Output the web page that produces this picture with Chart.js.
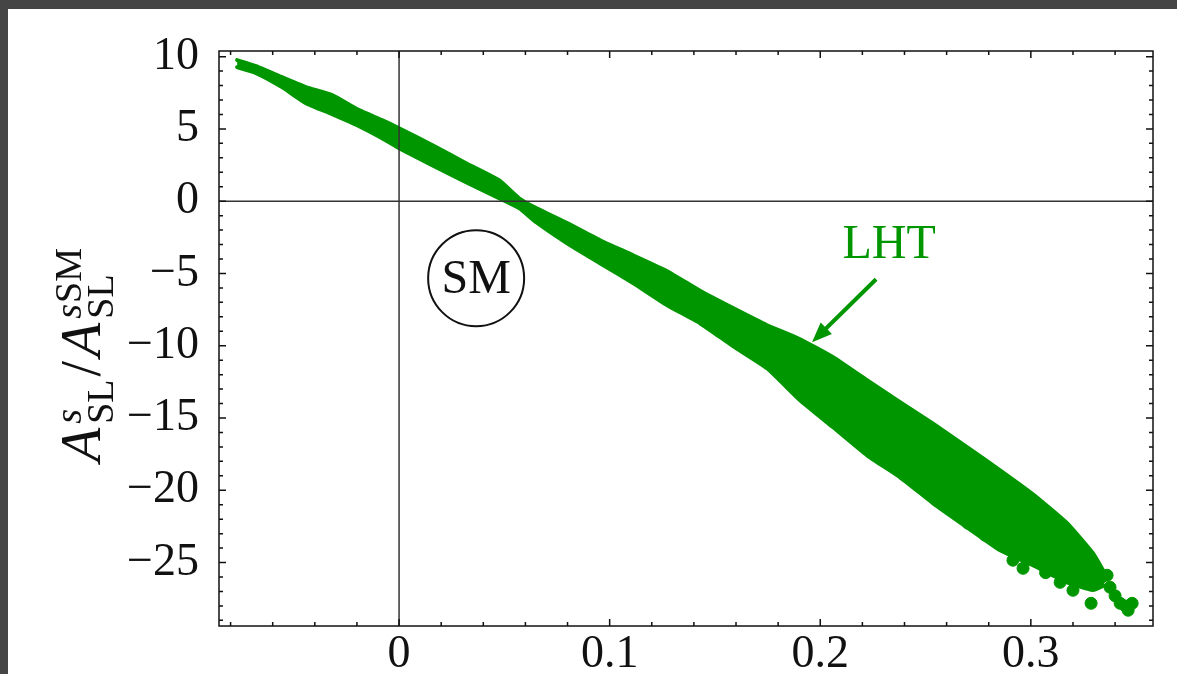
<!DOCTYPE html>
<html>
<head>
<meta charset="utf-8">
<script src="https://cdn.jsdelivr.net/npm/chart.js"></script>
<style>
  html, body { margin: 0; padding: 0; }
  body { background: #454545; width: 1177px; height: 674px; overflow: hidden; position: relative; }
  .sheet { position: absolute; left: 8px; top: 9px; width: 1169px; height: 665px; background: #fff; }
  canvas { display: block; }
</style>
</head>
<body>
<div class="sheet"><canvas id="chart" width="1169" height="665"></canvas></div>
<script>
// band of the LHT scan: upper / lower edge at each x
const envX = [-0.0769, -0.0679, -0.0556, -0.0442, -0.0318, -0.0190, -0.0081, 0.0, 0.0157, 0.0318,
    0.0475, 0.0570, 0.0651, 0.0798, 0.0954, 0.1111, 0.1273, 0.1429, 0.1586, 0.1747,
    0.1904, 0.2061, 0.2222, 0.2379, 0.2536, 0.2697, 0.2854, 0.3010, 0.3172, 0.3295, 0.3345]
const envUpper = [9.76, 9.34, 8.58, 7.89, 7.34, 6.30, 5.61, 5.05, 3.88, 2.63,
    1.45, 0.20, -0.48, -1.52, -2.70, -3.74, -4.84, -6.20, -7.40, -8.58,
    -9.55, -10.80, -12.39, -13.90, -15.40, -17.02, -18.62, -20.28, -22.28, -24.36, -25.60]
const envLower = [9.27, 8.86, 7.89, 6.78, 6.02, 5.19, 4.36, 3.67, 2.49, 1.31,
    0.21, -0.48, -1.45, -2.91, -4.29, -5.67, -7.20, -8.44, -10.03, -11.56,
    -13.77, -15.64, -17.58, -19.10, -20.90, -22.56, -24.15, -25.19, -26.37, -26.90, -26.60]

// loose points at the ragged end of the band
const tailX = [0.2702, 0.2783, 0.2854, 0.2915, 0.2963, 0.3070, 0.3139, 0.3200, 0.3245, 0.3286,
    0.3330, 0.3362, 0.3376, 0.3400, 0.3424, 0.3448, 0.3462, 0.3481]
const tailY = [-22.28, -23.11, -23.46, -24.84, -25.40, -25.70, -26.37, -26.92, -25.90, -27.82,
    -26.10, -25.88, -26.71, -27.30, -27.82, -28.00, -28.30, -27.82]

const xTicks = [0, 0.1, 0.2, 0.3]
const yTicks = [-25, -20, -15, -10, -5, 0, 5, 10]
const xMin = -0.0855, xMax = 0.358
const yMin = -29.39, yMax = 10.39

const green = 'rgb(0,150,0)'
const serif = '"Liberation Serif", "DejaVu Serif", serif'

function drawTitle(c) {
    c.save()
    c.translate(92, 344)
    c.rotate(-Math.PI / 2)
    c.fillStyle = '#111'
    c.textAlign = 'left'
    c.textBaseline = 'alphabetic'
    const big = 'italic 56px ' + serif
    const supI = 'italic 38px ' + serif
    const sub = '38px ' + serif
    // A^s_SL / A^{s SM}_SL
    const runs = [
        { parts: [{ t: 'A', f: big, dy: 0 }] },
        { parts: [{ t: 's', f: supI, dy: -19 }], below: { t: 'SL', f: sub, dy: 13 } },
        { parts: [{ t: '/', f: '56px ' + serif, dy: 0 }] },
        { parts: [{ t: 'A', f: big, dy: 0 }] },
        { parts: [{ t: 's', f: supI, dy: -19 }, { t: 'SM', f: sub, dy: -19 }], below: { t: 'SL', f: sub, dy: 13 } }
    ]
    let total = 0
    for (let r of runs) {
        let w = 0
        for (let p of r.parts) { c.font = p.f; p.w = c.measureText(p.t).width + 1; w += p.w }
        if (r.below) { c.font = r.below.f; w = Math.max(w, c.measureText(r.below.t).width) }
        r.w = w + 3
        total += r.w
    }
    let x = -total / 2
    for (let r of runs) {
        let px = x
        for (let p of r.parts) { c.font = p.f; c.fillText(p.t, px, p.dy); px += p.w }
        if (r.below) { c.font = r.below.f; c.fillText(r.below.t, x, r.below.dy) }
        x += r.w
    }
    c.restore()
}

const frame = {
    id: 'frame',
    afterDatasetsDraw(chart) {
        const c = chart.ctx, a = chart.chartArea
        const sx = chart.scales.x, sy = chart.scales.y
        c.save()
        c.strokeStyle = '#333'
        c.lineWidth = 1.5
        c.beginPath()
        c.moveTo(sx.getPixelForValue(0), a.top)
        c.lineTo(sx.getPixelForValue(0), a.bottom)
        c.moveTo(a.left, sy.getPixelForValue(0))
        c.lineTo(a.right, sy.getPixelForValue(0))
        c.stroke()
        c.restore()
    },
    afterDraw(chart) {
        const c = chart.ctx, a = chart.chartArea
        const sx = chart.scales.x, sy = chart.scales.y
        c.save()
        c.strokeStyle = '#111'
        c.lineWidth = 1.5
        c.strokeRect(a.left, a.top, a.right - a.left, a.bottom - a.top)

        // inward ticks on all four sides
        c.beginPath()
        for (let k = -29; k <= 10; k++) {
            const y = sy.getPixelForValue(k)
            const len = k % 5 === 0 ? 7 : 4
            c.moveTo(a.left, y); c.lineTo(a.left + len, y)
            c.moveTo(a.right, y); c.lineTo(a.right - len, y)
        }
        for (let k = -4; k <= 17; k++) {
            const x = sx.getPixelForValue(k * 0.02)
            const len = k % 5 === 0 ? 7 : 4
            c.moveTo(x, a.bottom); c.lineTo(x, a.bottom - len)
            c.moveTo(x, a.top); c.lineTo(x, a.top + len)
        }
        c.stroke()

        // SM circle
        const cx = sx.getPixelForValue(0.0366), cy = sy.getPixelForValue(-5.33)
        c.lineWidth = 2
        c.beginPath()
        c.arc(cx, cy, 48, 0, Math.PI * 2)
        c.stroke()
        c.fillStyle = '#111'
        c.font = '48px ' + serif
        c.textAlign = 'center'
        c.textBaseline = 'middle'
        c.fillText('SM', cx, cy + 2)

        // LHT label + arrow
        c.fillStyle = green
        c.textBaseline = 'alphabetic'
        c.fillText('LHT', sx.getPixelForValue(0.2327), sy.getPixelForValue(-3.94))
        const x0 = sx.getPixelForValue(0.2265), y0 = sy.getPixelForValue(-5.40)
        const x1 = sx.getPixelForValue(0.1961), y1 = sy.getPixelForValue(-9.76)
        const ang = Math.atan2(y1 - y0, x1 - x0)
        const head = 20
        c.strokeStyle = green
        c.lineWidth = 4
        c.beginPath()
        c.moveTo(x0, y0)
        c.lineTo(x1 - Math.cos(ang) * head * 0.8, y1 - Math.sin(ang) * head * 0.8)
        c.stroke()
        c.beginPath()
        c.moveTo(x1, y1)
        c.lineTo(x1 - Math.cos(ang) * head + Math.sin(ang) * 8, y1 - Math.sin(ang) * head - Math.cos(ang) * 8)
        c.lineTo(x1 - Math.cos(ang) * head - Math.sin(ang) * 8, y1 - Math.sin(ang) * head + Math.cos(ang) * 8)
        c.closePath()
        c.fill()

        drawTitle(c)
        c.restore()
    }
}

new Chart(document.querySelector('#chart'), {
    type: 'line',
    data: {
        datasets: [{
            data: envX.map((x, i) => ({ x: x, y: envLower[i] })),
            borderColor: green,
            backgroundColor: green,
            borderWidth: 4,
            borderCapStyle: 'round',
            borderJoinStyle: 'round',
            pointRadius: 0,
            fill: false,
            tension: 0.15
        }, {
            data: envX.map((x, i) => ({ x: x, y: envUpper[i] })),
            borderColor: green,
            backgroundColor: green,
            borderWidth: 4,
            borderCapStyle: 'round',
            borderJoinStyle: 'round',
            pointRadius: 0,
            fill: '-1',
            tension: 0.15
        }, {
            data: tailX.map((x, i) => ({ x: x, y: tailY[i] })),
            showLine: false,
            pointRadius: 6,
            pointBackgroundColor: green,
            pointBorderColor: green,
            pointBorderWidth: 1
        }]
    },
    options: {
        responsive: false,
        animation: false,
        devicePixelRatio: 1,
        layout: { padding: { top: 42, right: 24, left: 0, bottom: 0 } },
        plugins: { legend: { display: false }, tooltip: { enabled: false } },
        scales: {
            x: {
                type: 'linear',
                min: xMin,
                max: xMax,
                afterFit: s => { s.height = 48 },
                afterBuildTicks: s => { s.ticks = xTicks.map(v => ({ value: v })) },
                grid: { display: false },
                border: { display: false },
                ticks: {
                    autoSkip: false,
                    maxRotation: 0,
                    padding: -7,
                    color: '#111',
                    font: { family: serif, size: 46 },
                    callback: v => v === 0 ? '0' : v.toFixed(1)
                }
            },
            y: {
                type: 'linear',
                min: yMin,
                max: yMax,
                afterFit: s => { s.width = 211 },
                afterBuildTicks: s => { s.ticks = yTicks.map(v => ({ value: v })) },
                grid: { display: false },
                border: { display: false },
                ticks: {
                    autoSkip: false,
                    padding: 12,
                    color: '#111',
                    font: { family: serif, size: 46 },
                    callback: v => v < 0 ? '\u2212' + (-v) : String(v)
                }
            }
        }
    },
    plugins: [frame]
})
</script>
</body>
</html>
